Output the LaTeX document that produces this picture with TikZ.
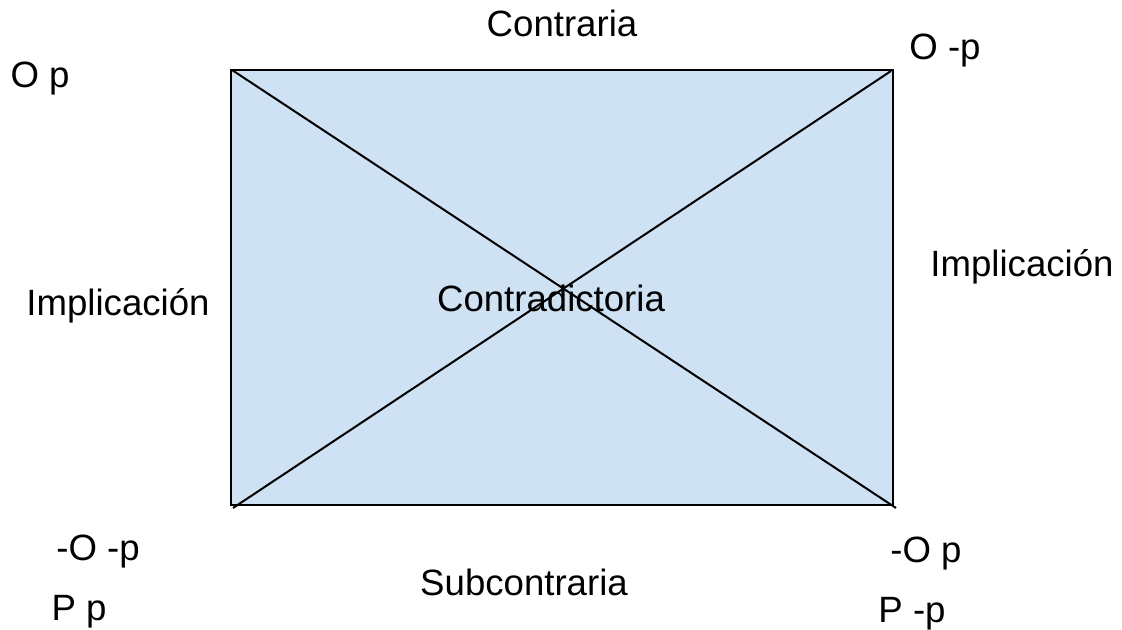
\documentclass[tikz,border=0pt]{standalone}
\usepackage{fontspec}
\setmainfont{Liberation Sans}
\definecolor{squarefill}{HTML}{CFE2F3}
\begin{document}
\begin{tikzpicture}[
x=0.5pt,
y=-0.5pt,
every node/.style={
    inner sep=0pt,
    anchor=base,
    font=\fontsize{18.3}{22}\selectfont
},
edge/.style={line width=1pt,black}
]
\useasboundingbox (0,0) rectangle (1122,630);

%---------------- Square ----------------
\coordinate (tl) at (231,70);
\coordinate (tr) at (893,70);
\coordinate (br) at (893,505);
\coordinate (bl) at (231,505);
\coordinate (d1a) at (232,70);
\coordinate (d1b) at (896,508);
\coordinate (d2a) at (233,508);
\coordinate (d2b) at (891,71);

\draw[edge,fill=squarefill] (tl) -- (tr) -- (br) -- (bl) -- cycle;
\draw[edge] (d1a) -- (d1b);
\draw[edge] (d2a) -- (d2b);

%---------------- Labels ----------------
\node (op) at (40,88) {O p};
\node (onp) at (945,60) {O -p};
\node (contraria) at (562,37) {Contraria};
\node (implL) at (118,315) {Implicación};
\node (implR) at (1022,277) {Implicación};
\node (contradictoria) at (551,312) {Contradictoria};
\node (nonp) at (98,560) {-O -p};
\node (pp) at (79,620) {P p};
\node (subcontraria) at (524,595) {Subcontraria};
\node (nop) at (926,562) {-O p};
\node (pnp) at (912,622) {P -p};

\end{tikzpicture}
\end{document}
